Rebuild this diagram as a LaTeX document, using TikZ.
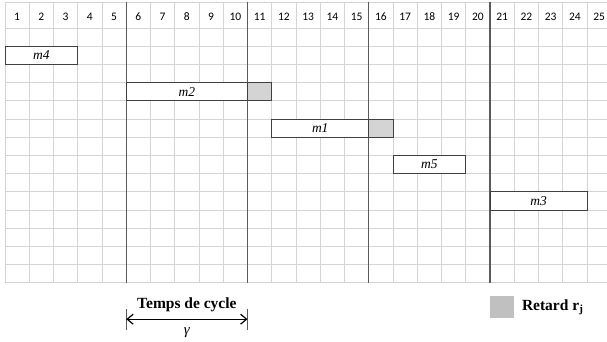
\documentclass[tikz,border=0pt]{standalone}
\usepackage{fontspec}
\setmainfont{Liberation Serif}
\newfontfamily\headfont{Carlito}
\usetikzlibrary{
  arrows.meta,
  positioning,
}
\definecolor{gridgray}{RGB}{212,212,212}
\definecolor{linegray}{RGB}{90,90,90}
\definecolor{boxgray}{RGB}{64,64,64}
\definecolor{delaygray}{RGB}{212,212,212}
\definecolor{legendgray}{RGB}{192,192,192}
\tikzset{
  cell/.style={
    draw=gridgray,
    line width=0.8pt
  },
  cycleline/.style={
    draw=linegray,
    line width=1.2pt
  },
  colnum/.style={
    font=\headfont\fontsize{11.5}{13}\selectfont
  },
  job/.style={
    rectangle,
    draw=boxgray,
    fill=white,
    line width=0.9pt,
    inner sep=0pt,
    outer sep=0pt,
    minimum height=18.2pt,
    anchor=west,
    font=\fontsize{13.5}{15}\selectfont\itshape
  },
  delay/.style={
    rectangle,
    draw=boxgray,
    fill=delaygray,
    line width=0.9pt,
    inner sep=0pt,
    outer sep=0pt,
    minimum height=18.2pt,
    minimum width=24.25pt
  },
  keybox/.style={
    rectangle,
    fill=legendgray,
    minimum width=24.3pt,
    minimum height=22.3pt
  },
  caption/.style={
    font=\fontsize{15.5}{17}\selectfont\bfseries
  },
  arrow/.style={
    line width=1.2pt,
    {Straight Barb[length=6pt,width=10pt]}-{Straight Barb[length=6pt,width=10pt]},
  },
  tickline/.style={
    draw=linegray,
    line width=0.8pt
  },
}

\begin{document}
\begin{tikzpicture}[x=24.25pt, y=-18.2pt]

  \useasboundingbox (-0.206,-1.538) rectangle (24.825,17.25);

  % Grid
  \foreach \i in {0,...,25}
    \draw[cell] (\i,-1.43) -- (\i,14);
  \draw[cell] (0,-1.43) -- (25,-1.43);
  \foreach \j in {0,...,14}
    \draw[cell] (0,\j) -- (25,\j);

  % Column numbers
  \foreach \i in {1,...,25}
    \node[colnum] (n\i) at (\i-0.5,-0.6) {\i};

  % Cycle limits
  \foreach \c in {5,10,15,20}
    \draw[cycleline] (\c,-1.43) -- (\c,14);

  % Jobs
  \node (m4) [job, minimum width=3*24.25pt] at (0,1.5) {m4};
  \node (m2) [job, minimum width=5*24.25pt] at (5,3.5) {m2};
  \node (m1) [job, minimum width=4*24.25pt] at (11,5.5) {m1};
  \node (m5) [job, minimum width=3*24.25pt] at (16,7.5) {m5};
  \node (m3) [job, minimum width=4*24.25pt] at (20,9.5) {m3};

  % Delays
  \node (r2) [delay, anchor=west] at (m2.east) {};
  \node (r1) [delay, anchor=west] at (m1.east) {};

  % Cycle time
  \node (cyc) [caption] at (7.5,15.22) {Temps de cycle};
  \coordinate (cyc start) at (5,16);
  \coordinate (cyc end) at (10,16);
  \draw[tickline] (cyc start) ++(0,-0.56) -- ++(0,1.15);
  \draw[tickline] (cyc end) ++(0,-0.56) -- ++(0,1.15);
  \draw[arrow] (cyc start) -- (cyc end);
  \node (gamma) [font=\fontsize{15}{16}\selectfont\itshape] at (7.5,16.72) {γ};

  % Legend
  \node (key) [keybox] at (20.5,15.34) {};
  \node (key text) [caption, right=4pt of key] {Retard r\textsubscript{j}};

\end{tikzpicture}
\end{document}
